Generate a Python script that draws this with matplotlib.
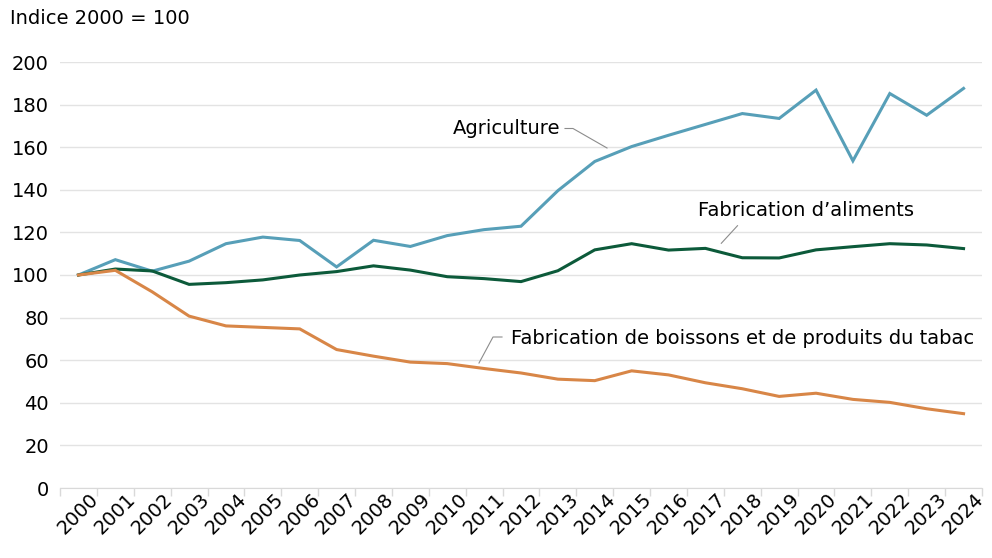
import matplotlib
matplotlib.use("Agg")
import matplotlib.pyplot as plt
import numpy as np

years = [str(y) for y in range(2000, 2025)]
agriculture = [100, 107.2, 101.8, 106.5, 114.7, 117.8, 116.2, 103.8, 116.3, 113.4,
               118.5, 121.3, 122.9, 139.6, 153.3, 160.3, 165.6, 170.7, 175.8, 173.5,
               186.8, 153.6, 185.2, 175.0, 187.6]
aliments = [100, 102.8, 101.9, 95.6, 96.4, 97.7, 100.0, 101.6, 104.3, 102.3,
            99.2, 98.3, 96.9, 102.0, 111.8, 114.7, 111.7, 112.5, 108.1, 108.0,
            111.8, 113.3, 114.7, 114.1, 112.4]
boissons = [100, 102.2, 92.1, 80.7, 76.1, 75.4, 74.7, 65.0, 61.9, 59.1,
            58.4, 56.1, 54.0, 51.1, 50.4, 55.0, 53.1, 49.4, 46.6, 43.0,
            44.5, 41.6, 40.2, 37.2, 34.9]
yticks = [0, 20, 40, 60, 80, 100, 120, 140, 160, 180, 200]

plt.rcParams['font.family'] = ['DejaVu Sans']
FS = 14

fig = plt.figure(figsize=(9.92, 5.58), dpi=100)
ax = fig.add_axes([60/992, 1-488/558, (982-60)/992, (488-62)/558])

x = np.arange(len(years))
ax.plot(x, agriculture, color='#579fb8', lw=2.2, solid_joinstyle='miter')
ax.plot(x, aliments, color='#0c5a3a', lw=2.2, solid_joinstyle='miter')
ax.plot(x, boissons, color='#d88647', lw=2.2, solid_joinstyle='miter')

ax.set_xlim(-0.5, len(years) - 0.5)
ax.set_ylim(0, 200)
ax.set_yticks(yticks)
ax.set_yticklabels([str(v) for v in yticks], fontsize=FS)
ax.tick_params(axis='y', length=0, pad=8)
ax.yaxis.grid(True, color='#e3e3e3', lw=1)
ax.set_axisbelow(True)

ax.set_xticks(x)
ax.set_xticklabels(years, rotation=45, ha='center', fontsize=FS)
ax.set_xticks(np.arange(len(years) + 1) - 0.5, minor=True)
ax.tick_params(axis='x', which='major', length=0, pad=1)
ax.tick_params(axis='x', which='minor', length=6, color='#d9d9d9', width=1)

for s in ['top', 'right', 'left']:
    ax.spines[s].set_visible(False)
ax.spines['bottom'].set_color('#d9d9d9')

fig.text(10/992, 1-18/558, 'Indice 2000 = 100', fontsize=FS, va='center', ha='left')

def px(xp, yp):
    return ((xp - 60) / 36.88 - 0.5, (488 - yp) / 2.13)

lc = '#8c8c8c'
tx, ty = px(453, 128)
ax.text(tx, ty, 'Agriculture', fontsize=FS, va='center', ha='left')
p = [px(565, 128.5), px(573, 128.5), px(607, 148)]
ax.plot([a for a, b in p], [b for a, b in p], color=lc, lw=0.8)

tx, ty = px(698, 210)
ax.text(tx, ty, 'Fabrication d\u2019aliments', fontsize=FS, va='center', ha='left')
p = [px(737.5, 225.7), px(721.3, 243.3)]
ax.plot([a for a, b in p], [b for a, b in p], color=lc, lw=0.8)

tx, ty = px(511, 338)
ax.text(tx, ty, 'Fabrication de boissons et de produits du tabac', fontsize=FS, va='center', ha='left', clip_on=False)
p = [px(502, 337), px(493, 337), px(479, 363)]
ax.plot([a for a, b in p], [b for a, b in p], color=lc, lw=0.8)

fig.savefig('out.png', dpi=100)
